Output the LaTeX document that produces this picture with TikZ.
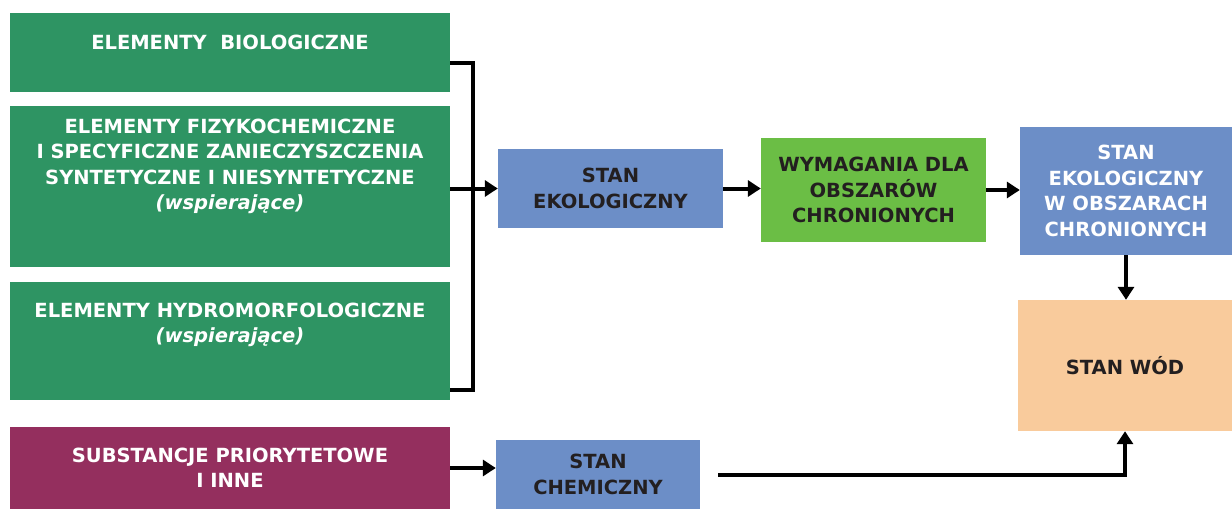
\documentclass[tikz,border=0pt]{standalone}
\usepackage{fontspec}
\setmainfont{DejaVu Sans}
\usetikzlibrary{arrows.meta}
\definecolor{darkgreen}{HTML}{2E9463}
\definecolor{stanblue}{HTML}{6C8EC7}
\definecolor{lightgreen}{HTML}{6BBE45}
\definecolor{prioviolet}{HTML}{942F5E}
\definecolor{wodyorange}{HTML}{F9CB9C}
\definecolor{darktext}{HTML}{231F20}
\tikzset{
  box/.style={inner sep=0pt, align=center, font=\bfseries\fontsize{19.5}{25.5}\selectfont},
  whitetxt/.style={box, text=white},
  darktxt/.style={box, text=darktext},
  conn/.style={line width=4pt, -{Triangle[length=13pt,width=16pt]}},
}
\begin{document}
\begin{tikzpicture}[x=1pt,y=-1pt]
  \useasboundingbox (0,0) rectangle (1232,509);
  % left column
  \node[box, fill=darkgreen, minimum width=440pt, minimum height=79pt] (bio) at (230,52.5) {};
  \node[whitetxt] (bioText) at ([yshift=10pt]bio.center) {ELEMENTY\ \ BIOLOGICZNE};
  \node[box, fill=darkgreen, minimum width=440pt, minimum height=161pt] (fiz) at (230,186.5) {};
  \node[whitetxt] (fizText) at ([yshift=20pt]fiz.center) {ELEMENTY FIZYKOCHEMICZNE\\I SPECYFICZNE ZANIECZYSZCZENIA\\SYNTETYCZNE I NIESYNTETYCZNE\\\textit{(wspierające)}};
  \node[box, fill=darkgreen, minimum width=440pt, minimum height=118pt] (hydro) at (230,341) {};
  \node[whitetxt] (hydroText) at ([yshift=16pt]hydro.center) {ELEMENTY HYDROMORFOLOGICZNE\\\textit{(wspierające)}};
  \node[whitetxt, fill=prioviolet, minimum width=440pt, minimum height=82pt] (prio) at (230,468) {SUBSTANCJE PRIORYTETOWE\\I INNE};
  % states
  \node[darktxt, fill=stanblue, minimum width=225pt, minimum height=79pt] (ekol) at (610.5,188.5) {STAN\\EKOLOGICZNY};
  \node[darktxt, fill=lightgreen, minimum width=225pt, minimum height=104pt] (wym) at (873.5,190) {WYMAGANIA DLA\\OBSZARÓW\\CHRONIONYCH};
  \node[whitetxt, fill=stanblue, minimum width=212pt, minimum height=128pt] (ekow) at (1126,191) {STAN\\EKOLOGICZNY\\W OBSZARACH\\CHRONIONYCH};
  \node[darktxt, fill=wodyorange, minimum width=214pt, minimum height=131pt] (wody) at (1125,365.5) {STAN WÓD};
  \node[darktxt, fill=stanblue, minimum width=204pt, minimum height=69pt] (chem) at (598,474.5) {STAN\\CHEMICZNY};
  % bracket
  \draw[line width=4pt] ([yshift=-10pt]bio.east) -| (473,390) -- (hydro.east |- 0,390);
  \draw[conn] (fiz.east |- ekol) -- (ekol.west);
  \draw[conn] (ekol.east) -- (ekol.east -| wym.west);
  \draw[conn] (wym.east) -- (wym.east -| ekow.west);
  \draw[conn] (ekow.south) -- (ekow.south |- wody.north);
  \draw[conn] (prio.east) -- (prio.east -| chem.west);
  \draw[conn, shorten <=18pt] (chem.east) -| (wody.south);
\end{tikzpicture}
\end{document}
